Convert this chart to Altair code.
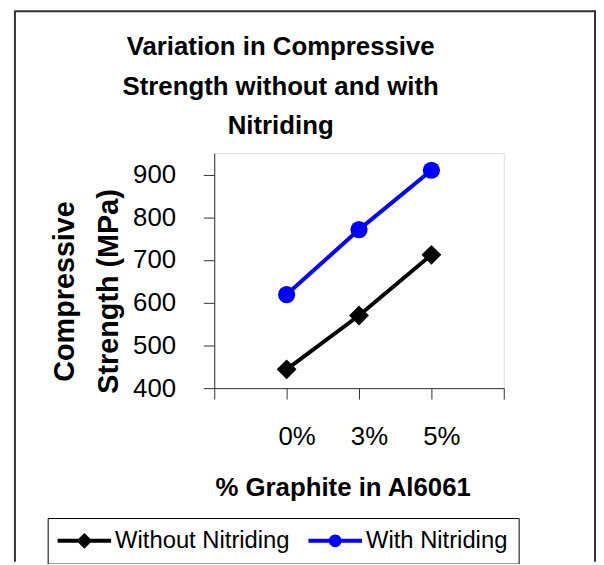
import altair as alt
import pandas as pd

categories = ["0%", "3%", "5%"]
positions = [1, 2, 3]
without_nitriding = [444, 570, 712]
with_nitriding = [619, 771, 910]
series_names = ["Without Nitriding", "With Nitriding"]
series_colors = ["#000000", "#0000FF"]
y_ticks = [400, 500, 600, 700, 800, 900]
title_lines = ["Variation in Compressive", "Strength without and with", "Nitriding"]

rows = []
for c, p, a, b in zip(categories, positions, without_nitriding, with_nitriding):
    rows.append({"cat": c, "pos": p, "series": series_names[0], "value": a})
    rows.append({"cat": c, "pos": p, "series": series_names[1], "value": b})
df = pd.DataFrame(rows)

FONT = "Liberation Sans"
label_expr = " : ".join(
    [f"datum.value == {p} ? '{c}'" for p, c in zip(positions, categories)]
) + " : ''"

x_enc = alt.X(
    "pos:Q",
    scale=alt.Scale(domain=[0, 4], nice=False, zero=False),
    axis=alt.Axis(
        values=[0, 1, 2, 3, 4], labelExpr=label_expr, grid=False,
        tickSize=11, labelPadding=25, labelOffset=10, labelFontSize=26,
        labelFont=FONT, labelColor="#000", domainColor="#333", tickColor="#333",
        title="% Graphite in Al6061", titleFontSize=26, titleFont=FONT,
        titleFontWeight="bold", titleColor="#000", titleX=129.5, titleY=108,
        titleAlign="center", titleBaseline="alphabetic",
    ),
)
y_enc = alt.Y(
    "value:Q",
    scale=alt.Scale(domain=[400, 950], nice=False, zero=False),
    axis=alt.Axis(
        values=y_ticks, grid=False, tickSize=11, labelPadding=28,
        labelFontSize=26, labelFont=FONT, labelColor="#000",
        domainColor="#333", tickColor="#333",
        title=["Compressive", "Strength (MPa)"], titleFontSize=29, titleFont=FONT,
        titleFontWeight="bold", titleColor="#000", titleLineHeight=44,
        titleAngle=270, titleX=-142, titleY=139, titleAlign="center",
        titleBaseline="alphabetic",
    ),
)

base = alt.Chart(df)
layers = []
shapes = ["diamond", "circle"]
sizes = [400, 300]
for name, col, shp, sz in zip(series_names, series_colors, shapes, sizes):
    sub = base.transform_filter(alt.datum.series == name)
    layers.append(sub.mark_line(color=col, strokeWidth=4).encode(x=x_enc, y=y_enc))
    layers.append(sub.mark_point(color=col, filled=True, opacity=1, shape=shp, size=sz).encode(x=x_enc, y=y_enc))

path_diamond = "M-3,-0.22H3V0.22H-3Z M0,-0.89L0.89,0L0,0.89L-0.89,0Z"
path_circle = "M-3,-0.22H3V0.22H-3Z M-0.72,0A0.72,0.72 0 1,1 0.72,0A0.72,0.72 0 1,1 -0.72,0Z"

legend = alt.Legend(
    title=None, orient="none", legendX=-168, legendY=368, direction="horizontal",
    padding=11, columnPadding=18, labelOffset=19, symbolOffset=14, symbolSize=324,
    symbolStrokeWidth=0, labelFontSize=24, labelFont=FONT, labelColor="#000",
    labelLimit=400, strokeColor="#000", fillColor="#fff", symbolOpacity=1,
)
legend_layer = base.transform_filter("false").mark_point(filled=True, size=324).encode(
    x=x_enc, y=y_enc,
    color=alt.Color("series:N", scale=alt.Scale(domain=series_names, range=series_colors), legend=legend),
    shape=alt.Shape("series:N", scale=alt.Scale(domain=series_names, range=[path_diamond, path_circle]), legend=legend),
)
layers.append(legend_layer)

title_layer = alt.Chart(alt.Data(values=[{"t": title_lines}])).mark_text(
    font=FONT, fontSize=26, fontWeight="bold", color="#000", lineHeight=40,
    align="center", baseline="alphabetic",
).encode(text="t:N", x=alt.value(67), y=alt.value(-99))
layers.append(title_layer)

frame = alt.Chart(alt.Data(values=[{"k": 1}]))
border_color = "#333"
layers.append(frame.mark_rule(color=border_color, strokeWidth=2).encode(
    x=alt.value(-201), y=alt.value(-143), y2=alt.value(412)))
layers.append(frame.mark_rule(color=border_color, strokeWidth=2).encode(
    x=alt.value(384), y=alt.value(-143), y2=alt.value(412)))
layers.append(frame.mark_rule(color=border_color, strokeWidth=2).encode(
    x=alt.value(-202), x2=alt.value(385), y=alt.value(-143)))

chart = alt.layer(*layers).properties(
    width=292, height=237,
    padding={"left": 208, "top": 144, "right": 93, "bottom": 175},
    autosize=alt.AutoSizeParams(type="none"),
).configure_view(stroke=None).configure(font=FONT, background="white")

chart.save("out.html", embed_options={"renderer": "svg", "actions": False})
